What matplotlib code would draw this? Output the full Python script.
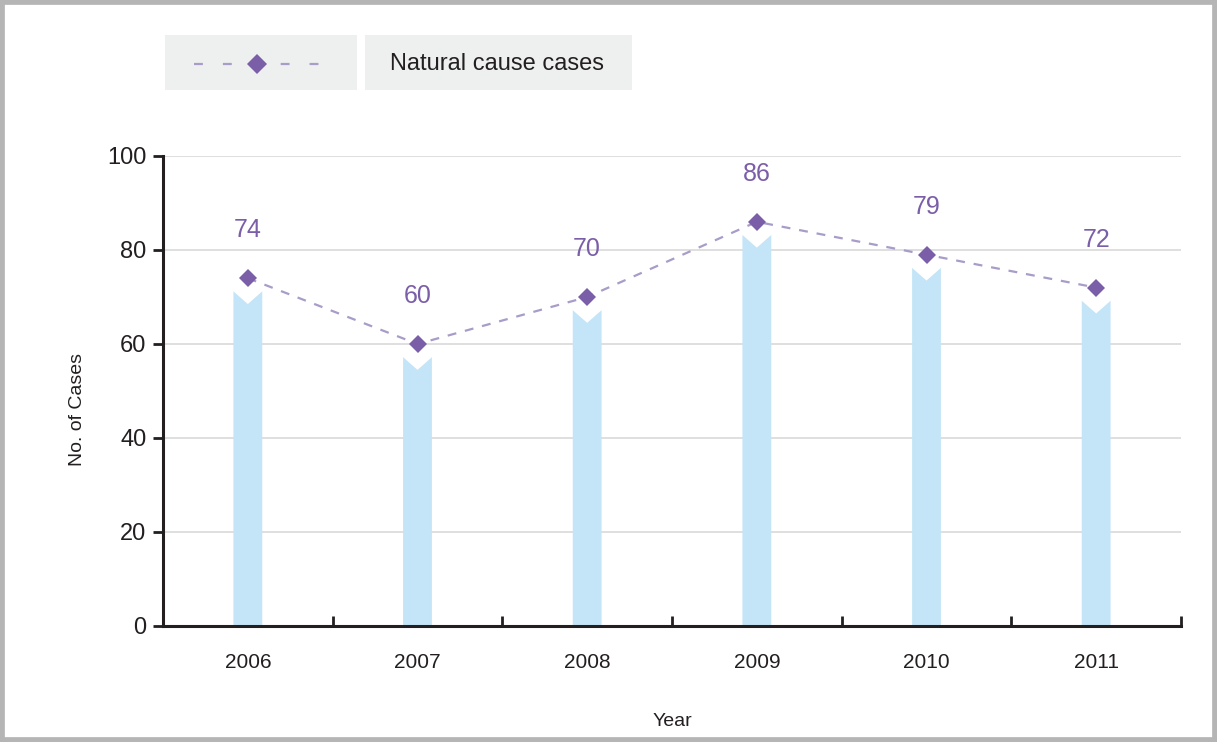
import matplotlib.pyplot as plt
from matplotlib.patches import Rectangle
from matplotlib.lines import Line2D

plt.rcParams['font.family'] = ['Liberation Sans', 'DejaVu Sans']

# 数据
years = ['2006', '2007', '2008', '2009', '2010', '2011']
cases = [74, 60, 70, 86, 79, 72]
y_ticks = [0, 20, 40, 60, 80, 100]

purple = '#7b5ea8'
line_purple = '#a89cc9'
bar_blue = '#c4e5f7'
box_gray = '#eef0ef'

fig = plt.figure(figsize=(12.17, 7.42), dpi=100)
ax = fig.add_axes([163 / 1217, 1 - 626 / 742, 1018 / 1217, 470 / 742])

# 柱子（顶部带 V 形缺口）
bar_w = 0.17
top_gap = 2.8
notch = 2.7
for i, v in enumerate(cases):
    xs = [i - bar_w / 2, i - bar_w / 2, i, i + bar_w / 2, i + bar_w / 2]
    ys = [0, v - top_gap, v - top_gap - notch, v - top_gap, 0]
    ax.fill(xs, ys, color=bar_blue, lw=0, zorder=2)

# 折线 + 菱形标记
x = list(range(len(years)))
ax.plot(x, cases, color=line_purple, lw=1.6, dashes=(4, 4), zorder=3)
ax.plot(x, cases, ls='none', marker='D', ms=9.5, color=purple, mew=0, zorder=4)

for i, v in enumerate(cases):
    ax.annotate(str(v), (i, v), xytext=(0, 34.5), textcoords='offset points',
                ha='center', va='center', fontsize=18, color=purple)

# 坐标轴
ax.set_xlim(-0.5, len(years) - 0.5)
ax.set_ylim(0, 100)
ax.set_yticks(y_ticks)
ax.set_yticklabels([str(t) for t in y_ticks], fontsize=17, color='#231f20')
ax.tick_params(axis='y', direction='out', length=7, width=2, pad=5, color='#231f20')

ax.set_xticks(x)
ax.set_xticklabels(years, fontsize=15, color='#231f20')
ax.set_xticks([i - 0.5 for i in range(len(years) + 1)], minor=True)
ax.tick_params(axis='x', which='major', length=0, pad=19.5)
ax.tick_params(axis='x', which='minor', direction='in', length=7.5, width=2, color='#231f20')

for t in y_ticks[1:]:
    ax.axhline(t, color='#d9d9d9', lw=1.2, zorder=1)

for s in ['top', 'right']:
    ax.spines[s].set_visible(False)
for s in ['left', 'bottom']:
    ax.spines[s].set_linewidth(2.2)
    ax.spines[s].set_color('#231f20')
    ax.spines[s].set_zorder(5)

ax.set_xlabel('Year', fontsize=14, color='#231f20')
ax.xaxis.set_label_coords(0.5, -0.185)
ax.set_ylabel('No. of Cases', fontsize=14, color='#231f20')
ax.yaxis.set_label_coords(-0.0756, 0.46)

# 图例（两个灰色方块）
W, H = 1217, 742
fig.add_artist(Rectangle((165 / W, 1 - 90 / H), 192 / W, 55 / H,
                         transform=fig.transFigure, color=box_gray, lw=0))
fig.add_artist(Rectangle((365 / W, 1 - 90 / H), 267 / W, 55 / H,
                         transform=fig.transFigure, color=box_gray, lw=0))
fig.add_artist(Line2D([194 / W, 322 / W], [1 - 64 / H, 1 - 64 / H], transform=fig.transFigure,
                      color=line_purple, lw=1.6, dashes=(4, 9)))
fig.add_artist(Line2D([257 / W], [1 - 64 / H], transform=fig.transFigure, ls='none',
                      marker='D', ms=10, color=purple, mew=0))
fig.text(390 / W, 1 - 64 / H, 'Natural cause cases', fontsize=17, color='#231f20',
         ha='left', va='center')

# 外框
fig.add_artist(Rectangle((0, 0), 1, 1, transform=fig.transFigure, fill=False,
                         edgecolor='#b5b5b5', lw=7))

fig.savefig('out.png', dpi=100)
